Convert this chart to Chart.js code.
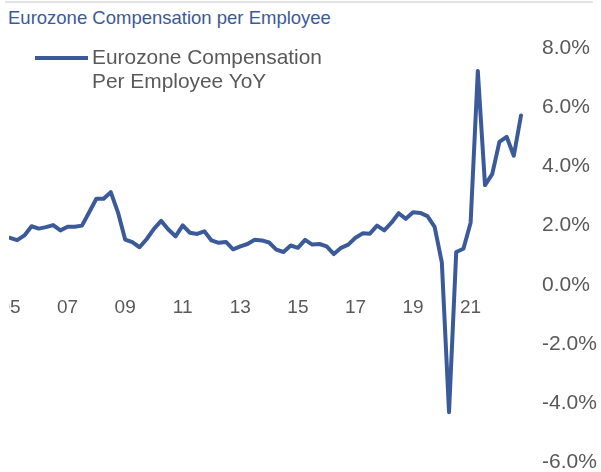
<!DOCTYPE html>
<html lang="en">
<head>
    <meta charset="UTF-8">
    <title>Eurozone Compensation per Employee</title>
    <style>
        body {
            margin: 0;
            padding: 0;
            width: 601px;
            height: 472px;
            overflow: hidden;
            background: #fff;
            font-family: "Liberation Sans", Arial, sans-serif;
            position: relative;
        }
        .topline {
            position: absolute;
            left: 5px;
            top: 1px;
            width: 588px;
            height: 2px;
            background: #e3e3e3;
        }
        .title {
            position: absolute;
            left: 8px;
            top: 9px;
            font-size: 18.5px;
            line-height: 18.5px;
            color: #3b5a9a;
            white-space: nowrap;
        }
        .legend {
            position: absolute;
            left: 35px;
            top: 45px;
            z-index: 2;
        }
        .legend .swatch {
            position: absolute;
            left: 0;
            top: 10.5px;
            width: 53px;
            height: 4px;
            background: #3b5a9a;
        }
        .legend .text {
            position: absolute;
            left: 57px;
            top: 0;
            font-size: 20.9px;
            line-height: 23.7px;
            color: #595959;
            white-space: nowrap;
        }
        .clip {
            position: absolute;
            left: 9px;
            top: 0;
            width: 592px;
            height: 472px;
            overflow: hidden;
        }
        .clip canvas {
            position: absolute;
            left: -40px;
            top: 0;
        }
    </style>
    <script src="https://cdn.jsdelivr.net/npm/chart.js"></script>
</head>
<body>

<div class="topline"></div>
<div class="title">Eurozone Compensation per Employee</div>
<div class="legend">
    <div class="swatch"></div>
    <div class="text">Eurozone Compensation<br>Per Employee YoY</div>
</div>
<div class="clip">
    <canvas id="chart" width="632" height="494"></canvas>
</div>

<script>
    // Quarterly categories, 2005 Q1 .. 2022 Q4
    const quarters = [];
    for (let y = 2005; y <= 2022; y++) {
        for (let q = 1; q <= 4; q++) quarters.push(y + 'Q' + q);
    }

    // Compensation per employee, % YoY
    const compYoY = [
        1.59, 1.51, 1.67, 1.98, 1.90, 1.95, 2.02, 1.84,
        1.96, 1.96, 2.00, 2.45, 2.91, 2.91, 3.13, 2.45,
        1.53, 1.44, 1.27, 1.55, 1.89, 2.16, 1.87, 1.64,
        2.01, 1.76, 1.72, 1.81, 1.50, 1.42, 1.45, 1.20,
        1.30, 1.38, 1.52, 1.50, 1.43, 1.19, 1.11, 1.33,
        1.25, 1.52, 1.36, 1.38, 1.30, 1.04, 1.25, 1.36,
        1.59, 1.74, 1.73, 2.00, 1.84, 2.10, 2.42, 2.23,
        2.45, 2.43, 2.32, 1.96, 0.76, -4.30, 1.11, 1.22,
        2.10, 7.22, 3.37, 3.74, 4.83, 5.00, 4.36, 5.72
    ];

    // Year labels, one every 8 quarters (Q1 of odd years)
    const tickLabels = ['05', '07', '09', '11', '13', '15', '17', '19', '21'];

    const ctx = document.getElementById('chart').getContext('2d');
    new Chart(ctx, {
        type: 'line',
        data: {
            labels: quarters,
            datasets: [{
                label: 'Eurozone Compensation Per Employee YoY',
                data: compYoY,
                borderColor: '#3b5a9a',
                borderWidth: 4,
                borderJoinStyle: 'round',
                borderCapStyle: 'round',
                pointRadius: 0,
                tension: 0,
                fill: false
            }]
        },
        options: {
            responsive: false,
            animation: false,
            layout: { padding: { left: 41, right: 0, top: 48, bottom: 12 } },
            plugins: {
                legend: { display: false },
                tooltip: { enabled: false }
            },
            scales: {
                x: {
                    position: { y: 0 },
                    offset: false,
                    grid: { display: false, drawTicks: false },
                    border: { display: false },
                    ticks: {
                        autoSkip: false,
                        maxRotation: 0,
                        padding: 12,
                        color: '#595959',
                        font: { family: '"Liberation Sans", Arial, sans-serif', size: 19 },
                        callback: (v, i) => (i % 8 === 0 ? tickLabels[i / 8] : null)
                    }
                },
                y: {
                    position: 'right',
                    min: -6,
                    max: 8,
                    grid: { display: false, drawTicks: false },
                    border: { display: false },
                    afterFit: (axis) => { axis.width = 80; },
                    ticks: {
                        stepSize: 2,
                        padding: 21,
                        color: '#595959',
                        font: { family: '"Liberation Sans", Arial, sans-serif', size: 21, lineHeight: 1 },
                        callback: (v) => v.toFixed(1) + '%'
                    }
                }
            }
        }
    });
</script>

</body>
</html>
